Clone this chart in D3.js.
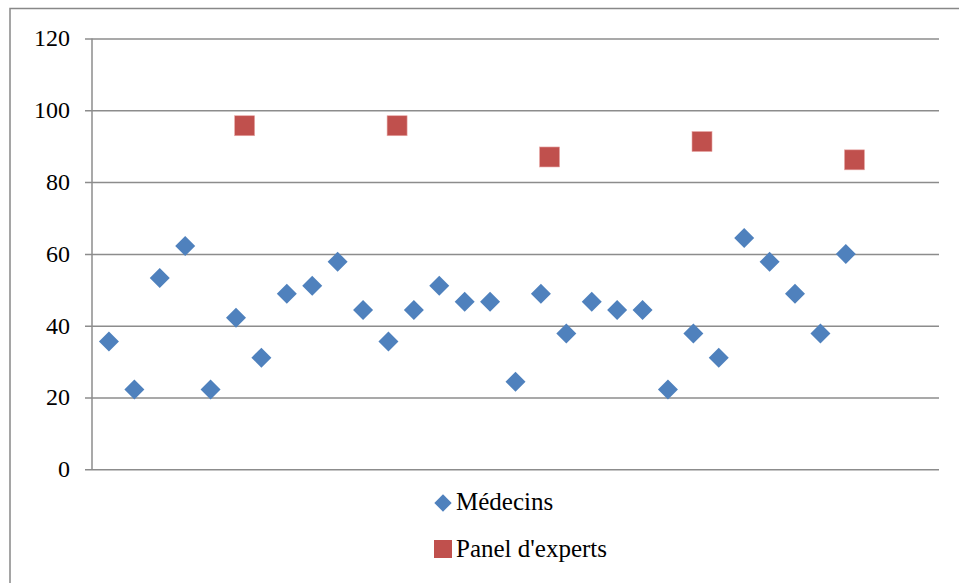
<!DOCTYPE html>
<html><head><meta charset="utf-8">
<script src="https://cdn.jsdelivr.net/npm/d3@7"></script>
<style>
html,body{margin:0;padding:0;background:#fff;}
svg{display:block;}
</style></head>
<body>
<script>
// Data
const medecinsX = [1,2,3,4,5,6,7,8,9,10,11,12,13,14,15,16,17,18,19,20,21,22,23,24,25,26,27,28,29,30];
const medecinsY = [35.6,22.2,53.3,62.2,22.2,42.2,31.1,48.9,51.1,57.8,44.4,35.6,44.4,51.1,46.7,46.7,24.4,48.9,37.8,46.7,44.4,44.4,22.2,37.8,31.1,64.4,57.8,48.9,37.8,60.0];
const expertsX = [6.34,12.34,18.34,24.34,30.34];
const expertsY = [95.7,95.7,87.0,91.3,86.2];
const yTicks = [0,20,40,60,80,100,120];
const seriesNames = ["Médecins","Panel d'experts"];
const seriesColors = ["#4f81bd","#c0504d"];

const FONT = "'Liberation Serif', monospace";
const W = 959, H = 583;
const svg = d3.select("body").append("svg").attr("width",W).attr("height",H)
  .attr("font-family","Liberation Serif");

// outer chart border
svg.append("rect").attr("x",10).attr("y",8.5).attr("width",W+20).attr("height",H+20)
  .attr("fill","none").attr("stroke","#888").attr("stroke-width",1.5);

const plot = {left:92, right:939, top:38.5, bottom:469.3};
const x = d3.scaleLinear().domain([1/3, 33+2/3]).range([plot.left, plot.right]);
const y = d3.scaleLinear().domain([0,120]).range([plot.bottom, plot.top]);

// gridlines
const yAxis = d3.axisLeft(y).tickValues(yTicks).tickSize(-(plot.right-plot.left)).tickFormat("");
const gy = svg.append("g").attr("transform",`translate(${plot.left},0)`).call(yAxis);
gy.select(".domain").remove();
gy.selectAll(".tick text").remove();
gy.selectAll(".tick line").attr("stroke","#8c8c8c").attr("stroke-width",1.5).attr("x1",-7);

// y tick labels
svg.append("g").selectAll("text").data(yTicks).join("text")
  .attr("x",plot.left-22).attr("y",d=>y(d)).attr("dy","0.33em")
  .attr("text-anchor","end").attr("font-family","Liberation Serif").attr("font-size",24)
  .style("font-family",FONT).style("font-size","24px").attr("fill","#000")
  .text(d=>d);

// vertical axis line
svg.append("line").attr("x1",plot.left).attr("x2",plot.left).attr("y1",plot.top).attr("y2",plot.bottom)
  .attr("stroke","#8c8c8c").attr("stroke-width",1.5);

const diamond = d3.symbol().type(d3.symbolSquare).size(200);

// Médecins diamonds
svg.append("g").selectAll("path").data(medecinsX.map((d,i)=>({x:d,y:medecinsY[i]}))).join("path")
  .attr("d",diamond)
  .attr("transform",d=>`translate(${x(d.x)},${y(d.y)}) rotate(45)`)
  .attr("fill",seriesColors[0]);

// Experts squares
svg.append("g").selectAll("rect").data(expertsX.map((d,i)=>({x:d,y:expertsY[i]}))).join("rect")
  .attr("x",d=>x(d.x)-10).attr("y",d=>y(d.y)-10).attr("width",20).attr("height",20)
  .attr("fill",seriesColors[1]).attr("stroke","#e8a8a6").attr("stroke-width",0.6);

// Legend
const leg = svg.append("g");
leg.append("path").attr("d",d3.symbol().type(d3.symbolSquare).size(150))
  .attr("transform","translate(443,503) rotate(45)").attr("fill",seriesColors[0]);
leg.append("text").attr("x",456).attr("y",510).attr("font-family","Liberation Serif").style("font-family",FONT).style("font-size","25px").attr("fill","#000").text(seriesNames[0]);
leg.append("rect").attr("x",434).attr("y",540).attr("width",18).attr("height",18).attr("fill",seriesColors[1]);
leg.append("text").attr("x",456).attr("y",557).attr("font-family","Liberation Serif").style("font-family",FONT).style("font-size","25px").attr("fill","#000").text(seriesNames[1]);
</script>
</body></html>
